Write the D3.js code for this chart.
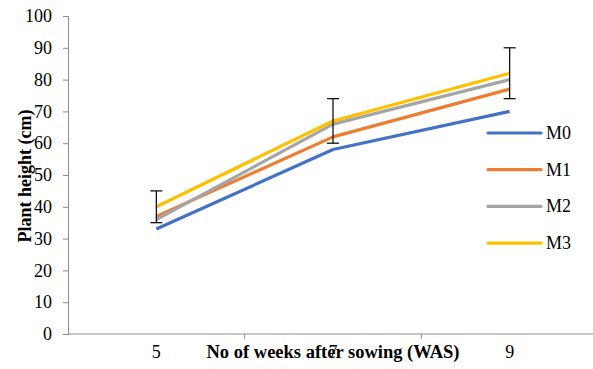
<!DOCTYPE html>
<html>
<head>
<meta charset="utf-8">
<script src="https://cdn.jsdelivr.net/npm/d3@7"></script>
<style>
  body { margin: 0; background: #fff; }
</style>
</head>
<body>
<div id="chart"></div>
<script>
var weeks = ["5", "7", "9"];
var seriesNames = ["M0", "M1", "M2", "M3"];
var m0 = [33, 58, 70];
var m1 = [37, 62, 77];
var m2 = [36, 66, 80];
var m3 = [40, 67, 82];
var m3Err = [5, 7, 8];
var yTicks = [0, 10, 20, 30, 40, 50, 60, 70, 80, 90, 100];
var colors = ["#4472C4", "#ED7D31", "#A5A5A5", "#FFC000"];

var series = [m0, m1, m2, m3];
var serif = "Liberation Serif";

var svg = d3.select("#chart").append("svg")
    .attr("width", 593)
    .attr("height", 369)
    .attr("font-family", serif);

var x = d3.scaleBand().domain(weeks).range([68, 598]);
var y = d3.scaleLinear().domain([0, 100]).range([334, 16]);

// y axis
var yAxis = svg.append("g")
    .attr("transform", "translate(68,0)")
    .call(d3.axisLeft(y).tickValues(yTicks).tickSize(5).tickPadding(11));
yAxis.attr("font-family", serif).attr("font-size", 18);
yAxis.selectAll("text").attr("fill", "#000");
yAxis.selectAll("line, path").attr("stroke", "#8c8c8c");

// x axis, ticks between categories
var xAxis = svg.append("g").attr("transform", "translate(0,334)");
xAxis.append("line")
    .attr("x1", 68).attr("x2", 598)
    .attr("stroke", "#8c8c8c");
xAxis.selectAll(".tk")
    .data(weeks.slice(1))
    .enter().append("line")
    .attr("x1", function(d) { return x(d); })
    .attr("x2", function(d) { return x(d); })
    .attr("y1", 0).attr("y2", 5)
    .attr("stroke", "#8c8c8c");
xAxis.selectAll(".lbl")
    .data(weeks)
    .enter().append("text")
    .attr("x", function(d) { return x(d) + x.bandwidth() / 2; })
    .attr("y", 24)
    .attr("text-anchor", "middle")
    .attr("font-family", serif)
    .attr("font-size", 18)
    .text(function(d) { return d; });

var line = d3.line()
    .x(function(d, i) { return x(weeks[i]) + x.bandwidth() / 2; })
    .y(function(d) { return y(d); });

series.forEach(function(s, k) {
    svg.append("path")
        .datum(s)
        .attr("d", line)
        .attr("fill", "none")
        .attr("stroke", colors[k])
        .attr("stroke-width", 3.2)
        .attr("stroke-linejoin", "round");
});

// error bars on M3
var eb = svg.append("g").attr("stroke", "#000").attr("stroke-width", 1.2);
m3.forEach(function(v, i) {
    var cx = x(weeks[i]) + x.bandwidth() / 2;
    eb.append("line").attr("x1", cx).attr("x2", cx)
        .attr("y1", y(v + m3Err[i])).attr("y2", y(v - m3Err[i]));
    eb.append("line").attr("x1", cx - 6).attr("x2", cx + 6)
        .attr("y1", y(v + m3Err[i])).attr("y2", y(v + m3Err[i]));
    eb.append("line").attr("x1", cx - 6).attr("x2", cx + 6)
        .attr("y1", y(v - m3Err[i])).attr("y2", y(v - m3Err[i]));
});

// legend
var legend = svg.append("g");
seriesNames.forEach(function(n, k) {
    var ly = 133 + k * 36.7;
    legend.append("line")
        .attr("x1", 488).attr("x2", 541)
        .attr("y1", ly).attr("y2", ly)
        .attr("stroke", colors[k])
        .attr("stroke-width", 3.2)
        .attr("stroke-linecap", "round");
    legend.append("text")
        .attr("x", 546).attr("y", ly + 6)
        .attr("font-family", serif)
        .attr("font-size", 18)
        .text(n);
});

// axis titles
svg.append("text")
    .attr("transform", "translate(31,176) rotate(-90)")
    .attr("text-anchor", "middle")
    .attr("font-family", serif)
    .attr("font-size", 18)
    .attr("font-weight", "bold")
    .text("Plant height (cm)");

svg.append("text")
    .attr("x", 333).attr("y", 358)
    .attr("text-anchor", "middle")
    .attr("font-family", serif)
    .attr("font-size", 18.5)
    .attr("font-weight", "bold")
    .text("No of weeks after sowing (WAS)");
</script>
</body>
</html>
